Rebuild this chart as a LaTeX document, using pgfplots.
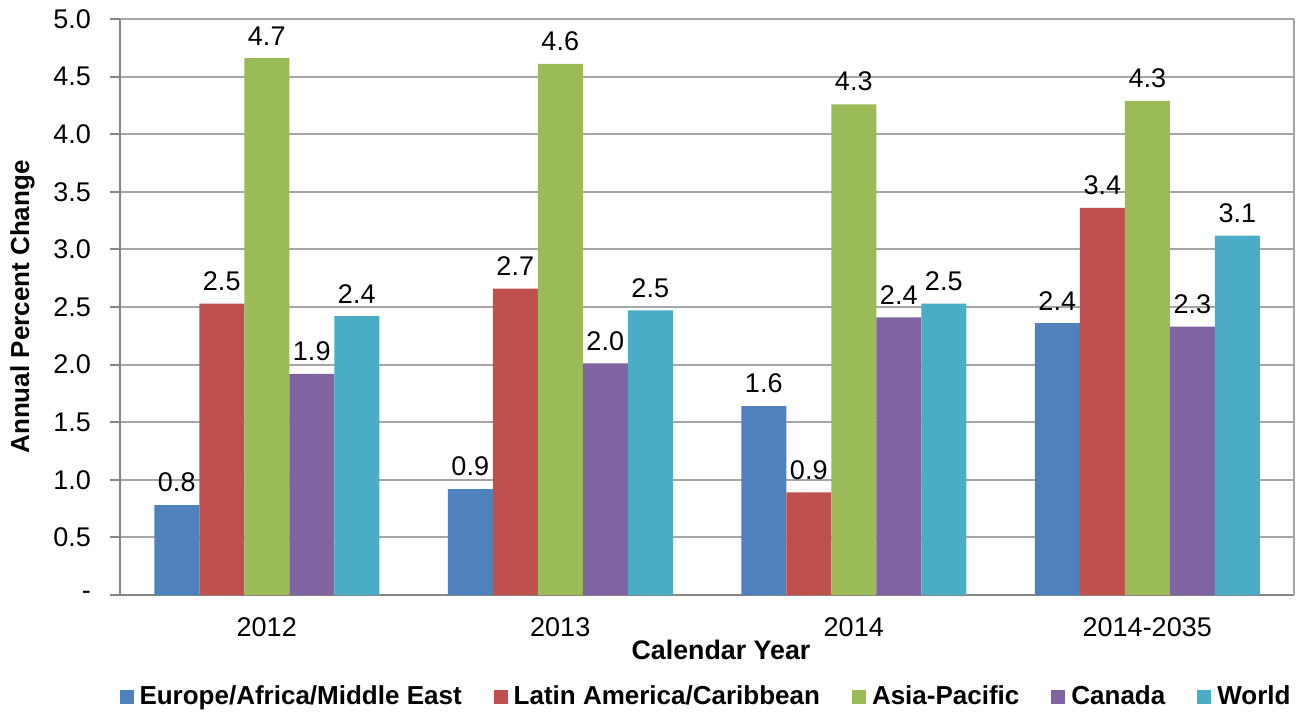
\documentclass[border=0pt]{standalone}
\usepackage{fontspec}
\setmainfont{Liberation Sans}
\usepackage{pgfplots}
\pgfplotsset{compat=1.18}

\definecolor{cEur}{RGB}{79,129,189}
\definecolor{cLat}{RGB}{192,80,77}
\definecolor{cAsia}{RGB}{155,187,89}
\definecolor{cCan}{RGB}{128,100,162}
\definecolor{cWorld}{RGB}{75,172,198}
\definecolor{axgray}{RGB}{134,134,134}
\definecolor{gridgray}{RGB}{166,166,166}

\begin{document}
\begin{tikzpicture}
\useasboundingbox (-60pt,-59pt) rectangle (589.5pt,297.5pt);
\begin{axis}[
    scale only axis,
    width=587pt, height=288pt,
    at={(0,0)}, anchor=south west,
    ybar=0pt,
    bar width=22.5pt,
    xmin=-0.5, xmax=3.5,
    ymin=0, ymax=5,
    xtick={0,1,2,3},
    xticklabels={2012,2013,2014,2014-2035},
    major x tick style={draw=none},
    extra x ticks={-0.5,0.5,1.5,2.5,3.5},
    extra x tick labels={},
    extra x tick style={major tick length=6pt, tick style={axgray, line width=1pt}, grid=none},
    ytick={0,0.5,...,5},
    yticklabels={-,0.5,1.0,1.5,2.0,2.5,3.0,3.5,4.0,4.5,5.0},
    tick align=outside,
    major tick length=5pt,
    tick style={axgray, line width=1pt},
    axis x line*=bottom,
    axis y line*=left,
    axis line style={axgray, line width=1pt, -},
    ymajorgrids,
    major grid style={gridgray, line width=1pt},
    tick label style={font=\fontsize{13.5}{15}\selectfont, black},
    xticklabel style={yshift=-3pt},
    yticklabel style={xshift=-6pt},
    /pgf/number format/assume math mode=true,
    nodes near coords,
    nodes near coords style={font=\fontsize{13.5}{15}\selectfont, black,
        /pgf/number format/fixed, /pgf/number format/fixed zerofill,
        /pgf/number format/precision=1, yshift=3pt},
    xlabel={\bfseries Calendar Year},
    xlabel style={at={(axis description cs:0.5,-0.095)}, anchor=center, xshift=7pt, font=\fontsize{13.4}{15}\selectfont},
    ylabel={\bfseries Annual Percent Change},
    ylabel style={at={(axis description cs:-0.083,0.5)}, anchor=center, rotate=0, font=\fontsize{13}{15}\selectfont},
    legend columns=5,
    legend style={at={(axis description cs:0.5,-0.177)}, anchor=center, draw=none,
        font=\fontsize{13}{15}\selectfont\bfseries, column sep=0pt,
        /tikz/every even column/.append style={column sep=14pt},
        inner sep=0pt},
    legend cell align=left,
    legend image code/.code={\fill[#1] (0pt,-3.4pt) rectangle (7pt,3.6pt);\path (8pt,0pt);},
    after end axis/.code={\draw[gridgray, line width=1pt] (rel axis cs:1,0) -- (rel axis cs:1,1);},
]
\addplot[fill=cEur, draw=none] coordinates {(0,0.78) (1,0.92) (2,1.64) (3,2.36)};
\addplot[fill=cLat, draw=none] coordinates {(0,2.53) (1,2.66) (2,0.89) (3,3.36)};
\addplot[fill=cAsia, draw=none] coordinates {(0,4.66) (1,4.61) (2,4.26) (3,4.29)};
\addplot[fill=cCan, draw=none] coordinates {(0,1.92) (1,2.01) (2,2.41) (3,2.33)};
\addplot[fill=cWorld, draw=none] coordinates {(0,2.42) (1,2.47) (2,2.53) (3,3.12)};
\legend{Europe/Africa/Middle East,Latin America/Caribbean,Asia-Pacific,Canada,World}
\end{axis}
\end{tikzpicture}
\end{document}
